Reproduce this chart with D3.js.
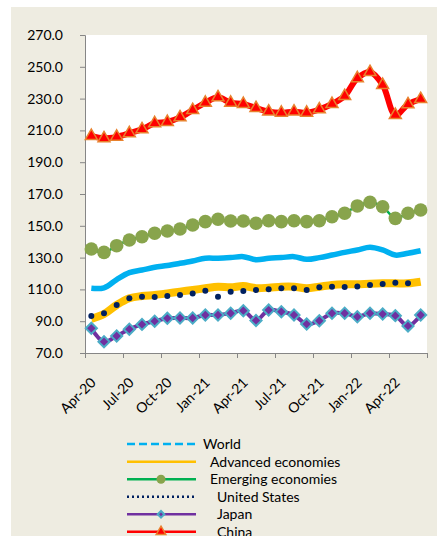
<!DOCTYPE html>
<html>
<head>
<meta charset="utf-8">
<script src="https://cdn.jsdelivr.net/npm/d3@7"></script>
<style>
  body { margin: 0; background: #fff; }
  text { font-family: Lato, "Liberation Sans", sans-serif; fill: #000; }
</style>
</head>
<body>
<div id="chart"></div>
<script>

// Monthly categories, Apr-20 .. Jun-22
var months = ['Apr-20','May-20','Jun-20','Jul-20','Aug-20','Sep-20','Oct-20','Nov-20','Dec-20',
              'Jan-21','Feb-21','Mar-21','Apr-21','May-21','Jun-21','Jul-21','Aug-21','Sep-21',
              'Oct-21','Nov-21','Dec-21','Jan-22','Feb-22','Mar-22','Apr-22','May-22','Jun-22'];

var yTicks = [70, 90, 110, 130, 150, 170, 190, 210, 230, 250, 270];

var seriesNames = ['World', 'Advanced economies', 'Emerging economies', 'United States', 'Japan', 'China'];

var world     = [110.7,111.0,116.2,120.5,122.2,123.9,125.0,126.4,127.9,129.6,129.6,130.0,130.6,128.7,129.6,130.0,130.6,128.9,130.0,131.6,133.3,134.8,136.5,134.8,131.6,132.7,134.3];
var advanced  = [91.5,94.5,100.2,104.4,105.8,106.5,107.5,108.6,109.6,110.7,111.7,111.3,112.1,110.8,111.1,111.7,111.7,110.7,111.7,112.8,113.2,113.2,113.6,113.8,113.8,113.8,114.8];
var emerging  = [135.4,133.3,137.5,141.1,143.1,145.3,146.7,148.0,150.5,152.6,154.1,153.0,153.0,151.6,153.2,152.6,153.2,152.6,153.2,155.7,157.9,162.5,164.8,162.0,154.7,157.9,159.9];
var us        = [93.3,95.0,100.2,104.4,105.4,105.2,105.8,106.5,107.5,109.2,105.4,108.6,109.0,109.6,110.1,110.7,110.7,109.6,111.3,111.7,111.5,111.9,112.8,113.4,114.2,113.8,null];
var japan     = [85.5,77.1,80.7,85.0,88.0,90.0,91.8,92.0,92.0,93.9,93.9,95.0,96.6,90.5,97.0,96.0,93.9,88.2,90.3,95.0,95.0,92.8,95.0,94.5,93.5,87.0,93.9];
var china     = [206.5,205.0,206.0,208.2,210.7,214.5,215.3,218.2,222.8,227.4,230.8,227.4,226.6,224.0,221.8,221.1,221.8,221.1,223.2,226.6,231.6,242.8,246.7,238.6,219.7,226.4,229.7];

var width = 441,
    height = 536;

var plot = {left: 85, right: 427, top: 35, bottom: 353};

var svg = d3.select('#chart')
  .append('svg')
  .attr('width', width)
  .attr('height', height);

// beige chart area
svg.append('rect')
  .attr('x', 11).attr('y', 7)
  .attr('width', 426).attr('height', height - 7)
  .style('fill', '#EEECE1');

// white plot area
svg.append('rect')
  .attr('x', plot.left).attr('y', plot.top)
  .attr('width', plot.right - plot.left).attr('height', plot.bottom - plot.top)
  .style('fill', '#fff');

// category axis as index scale: point i sits in middle of [i, i+1]
var x = d3.scaleLinear().domain([0, months.length]).range([plot.left, plot.right]);
var y = d3.scaleLinear().domain([70, 270]).range([plot.bottom, plot.top]);

var px = (d, i) => x(i + 0.5);

// y axis
var yAxis = svg.append('g')
  .attr('transform', 'translate(' + plot.left + ',0)')
  .call(d3.axisLeft(y).tickValues(yTicks).tickFormat(d3.format('.1f')).tickSize(5).tickPadding(17));
yAxis.select('.domain').style('stroke', '#868686');
yAxis.selectAll('.tick line').style('stroke', '#868686');
yAxis.selectAll('.tick text').style('font-size', '14px').style('font-family', 'Lato, sans-serif');

// x axis: ticks between every 3rd category
var xAxis = svg.append('g')
  .attr('transform', 'translate(0,' + plot.bottom + ')')
  .call(d3.axisBottom(x).tickValues(d3.range(0, months.length + 1, 3)).tickFormat('').tickSize(5).tickSizeOuter(0));
xAxis.select('.domain').style('stroke', '#868686');
xAxis.selectAll('.tick line').style('stroke', '#868686');

// rotated month labels
svg.selectAll('.xlabel')
  .data(months.filter((m, i) => i % 3 == 0))
  .enter()
  .append('text')
  .attr('class', 'xlabel')
  .attr('transform', (d, i) => 'translate(' + (x(i * 3 + 0.5) + 2) + ',380) rotate(-45)')
  .attr('text-anchor', 'end')
  .attr('dy', '0.35em')
  .style('font-size', '14px')
  .text(d => d);

var lineFor = (vals) => d3.line()
  .defined(d => d != null)
  .curve(d3.curveCatmullRom.alpha(0.5))
  .x(px)
  .y(d => y(d))(vals);

var g = svg.append('g');

// World
g.append('path').attr('d', lineFor(world))
  .style('fill', 'none').style('stroke', '#00B0F0').style('stroke-width', 5.5);

// Advanced economies
g.append('path').attr('d', lineFor(advanced))
  .style('fill', 'none').style('stroke', '#FFC000').style('stroke-width', 8);

// Emerging economies
g.append('path').attr('d', lineFor(emerging))
  .style('fill', 'none').style('stroke', '#00B050').style('stroke-width', 2.5);
g.selectAll('.em')
  .data(emerging).enter().append('circle')
  .attr('cx', px).attr('cy', d => y(d)).attr('r', 6.8)
  .style('fill', '#88A44C');

// United States (markers only)
g.selectAll('.us')
  .data(us).enter().filter(d => d != null).append('circle')
  .attr('cx', (d, i) => x(i + 0.5)).attr('cy', d => y(d)).attr('r', 3)
  .style('fill', '#002060');

// Japan
g.append('path').attr('d', lineFor(japan))
  .style('fill', 'none').style('stroke', '#7030A0').style('stroke-width', 4);
g.selectAll('.jp')
  .data(japan).enter().append('path')
  .attr('d', d3.symbol(d3.symbolSquare, 62))
  .attr('transform', (d, i) => 'translate(' + px(d, i) + ',' + y(d) + ') rotate(45)')
  .style('fill', '#7030A0').style('stroke', '#4BACC6').style('stroke-width', 2);

// China
g.append('path').attr('d', lineFor(china))
  .style('fill', 'none').style('stroke', '#FF0000').style('stroke-width', 6);
g.selectAll('.cn')
  .data(china).enter().append('path')
  .attr('d', d3.symbol(d3.symbolTriangle, 62))
  .attr('transform', (d, i) => 'translate(' + px(d, i) + ',' + y(d) + ')')
  .style('fill', '#FF0000').style('stroke', '#E8822E').style('stroke-width', 1.5);

// Legend
var legendRowY = [444, 461.7, 479.3, 496.7, 514.3, 531.7];
var legendTextX = [203, 210, 210, 217, 217, 217];
var legendStyle = [
  {stroke: '#00B0F0', dash: '8,4'},
  {stroke: '#FFC000', dash: null},
  {stroke: '#00B050', dash: null, marker: 'circle'},
  {stroke: '#002060', dash: '2,3'},
  {stroke: '#7030A0', dash: null, marker: 'diamond'},
  {stroke: '#FF0000', dash: null, marker: 'triangle'}
];

var legend = svg.append('g');

seriesNames.forEach((name, i) => {
  var ly = legendRowY[i], st = legendStyle[i];
  legend.append('line')
    .attr('x1', 127).attr('x2', 196).attr('y1', ly).attr('y2', ly)
    .style('stroke', st.stroke).style('stroke-width', 2.5)
    .style('stroke-dasharray', st.dash);
  if (st.marker == 'circle') {
    legend.append('circle').attr('cx', 161).attr('cy', ly).attr('r', 4.5).style('fill', '#88A44C');
  } else if (st.marker == 'diamond') {
    legend.append('path').attr('d', d3.symbol(d3.symbolSquare, 22))
      .attr('transform', 'translate(161,' + ly + ') rotate(45)')
      .style('fill', '#7030A0').style('stroke', '#4BACC6').style('stroke-width', 2);
  } else if (st.marker == 'triangle') {
    legend.append('path').attr('d', d3.symbol(d3.symbolTriangle, 40))
      .attr('transform', 'translate(161,' + ly + ')')
      .style('fill', '#FF0000').style('stroke', '#E8822E').style('stroke-width', 1.5);
  }
  legend.append('text')
    .attr('x', legendTextX[i]).attr('y', ly).attr('dy', '0.35em')
    .style('font-size', '14px')
    .text(name);
});

</script>
</body>
</html>
